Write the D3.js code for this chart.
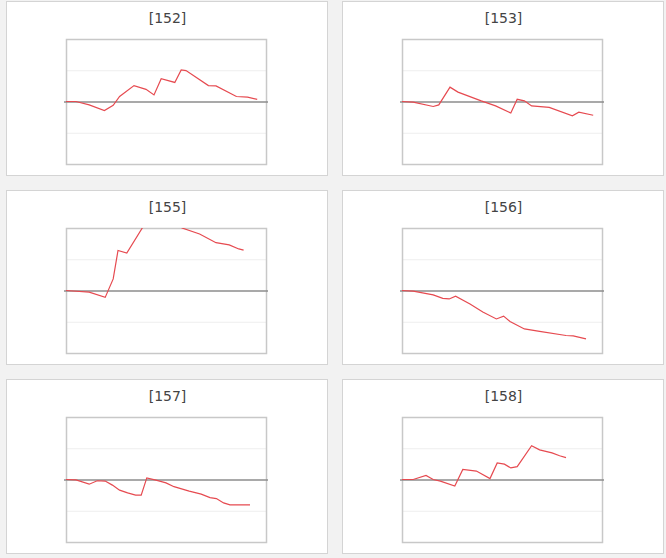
<!DOCTYPE html>
<html><head><meta charset="utf-8">
<script src="https://cdn.jsdelivr.net/npm/d3@7"></script>
<style>
body{margin:0;background:#f2f2f2;font-family:Verdana,"DejaVu Sans",sans-serif}
</style></head><body><div id="c"></div>
<script>
// Titel der Panels
const titles = ["[152]","[153]","[155]","[156]","[157]","[158]"];
// x = Tagesindex, y = Wert
const s152 = [[0,0],[1.25,0],[2.9,-0.11],[4.8,-0.29],[5.9,-0.12],[6.7,0.16],[8.5,0.51],[10,0.39],[11,0.21],[11.9,0.73],[13.6,0.61],[14.4,1.01],[15,0.99],[17.8,0.51],[18.75,0.5],[21.3,0.16],[22.7,0.14],[23.9,0.07]];
const s153 = [[0,0],[1.4,-0.02],[3.9,-0.16],[4.6,-0.11],[6,0.46],[7,0.3],[9.9,0.02],[11.7,-0.14],[13.6,-0.37],[14.4,0.07],[15.3,0.02],[16.2,-0.14],[18.4,-0.19],[21.3,-0.46],[22.1,-0.34],[23.9,-0.44]];
const s155 = [[0,0],[2.9,-0.05],[4.9,-0.22],[5.9,0.37],[6.5,1.28],[7.6,1.2],[10.5,2.4],[12.5,2.5],[14.5,2.0],[16.7,1.81],[18.75,1.53],[20.4,1.46],[21.6,1.33],[22.2,1.29]];
const s156 = [[0,0],[1.4,-0.02],[3.9,-0.14],[5.1,-0.25],[5.9,-0.27],[6.7,-0.18],[8.5,-0.43],[10.1,-0.69],[11.8,-0.91],[12.7,-0.82],[13.5,-0.99],[15.3,-1.23],[17.2,-1.31],[20.5,-1.44],[21.4,-1.45],[23,-1.55]];
const s157 = [[0,0],[1.25,-0.01],[2.9,-0.15],[3.9,-0.04],[4.9,-0.05],[5.8,-0.18],[6.7,-0.34],[7.7,-0.43],[8.7,-0.5],[9.4,-0.5],[10.1,0.05],[11.25,-0.02],[12.5,-0.11],[13.5,-0.23],[15.4,-0.37],[16.9,-0.47],[18,-0.58],[18.8,-0.61],[19.7,-0.75],[20.5,-0.81],[23,-0.81]];
const s158 = [[0,0],[1.4,0],[3,0.13],[3.9,0],[4.8,-0.05],[6.6,-0.21],[7.6,0.32],[9.3,0.27],[11,0.03],[11.9,0.53],[12.8,0.49],[13.6,0.37],[14.4,0.41],[16.2,1.08],[17.2,0.95],[18.75,0.85],[19.7,0.76],[20.5,0.7]];
const series = [s152,s153,s155,s156,s157,s158];
const gridVals = [-1,1];

const W=666,H=558;
const svg=d3.select("#c").append("svg").attr("width",W).attr("height",H);
const boxW=321, boxH=174, colX=[6,342], rowY=[1,190,379];
const x=d3.scaleLinear().domain([0,25]).range([60,260]);
const y=d3.scaleLinear().domain([-2,2]).range([163,38]);
const line=d3.line().x(d=>x(d[0])).y(d=>y(d[1]));

series.forEach((s,i)=>{
  const g=svg.append("g").attr("transform",`translate(${colX[i%2]},${rowY[Math.floor(i/2)]})`);
  g.append("rect").attr("x",0.5).attr("y",0.5).attr("width",boxW).attr("height",boxH).attr("fill","#fff").attr("stroke","#d4d4d4");
  g.append("text").attr("x",boxW/2+1).attr("y",22).attr("text-anchor","middle").attr("font-size",14).attr("fill","#444").text(titles[i]);
  g.append("clipPath").attr("id","cl"+i).append("rect").attr("x",x(0)).attr("y",y(2)).attr("width",x(25)-x(0)).attr("height",y(-2)-y(2));
  g.selectAll(".gr").data(gridVals).join("line").attr("x1",x(0)).attr("x2",x(25)).attr("y1",d=>y(d)+.5).attr("y2",d=>y(d)+.5).attr("stroke","#eeeeee");
  g.append("rect").attr("x",x(0)+.5).attr("y",y(2)+.5).attr("width",x(25)-x(0)).attr("height",y(-2)-y(2)).attr("fill","none").attr("stroke","#c8c8c8").attr("stroke-width",1.5);
  g.append("line").attr("x1",x(0)-2).attr("x2",x(25)+2).attr("y1",y(0)+.5).attr("y2",y(0)+.5).attr("stroke","#8c8c8c").attr("stroke-width",1.3);
  g.append("path").datum(s).attr("d",line).attr("fill","none").attr("stroke","#e64a50").attr("stroke-width",1.2).attr("clip-path",`url(#cl${i})`);
});
</script></body></html>
